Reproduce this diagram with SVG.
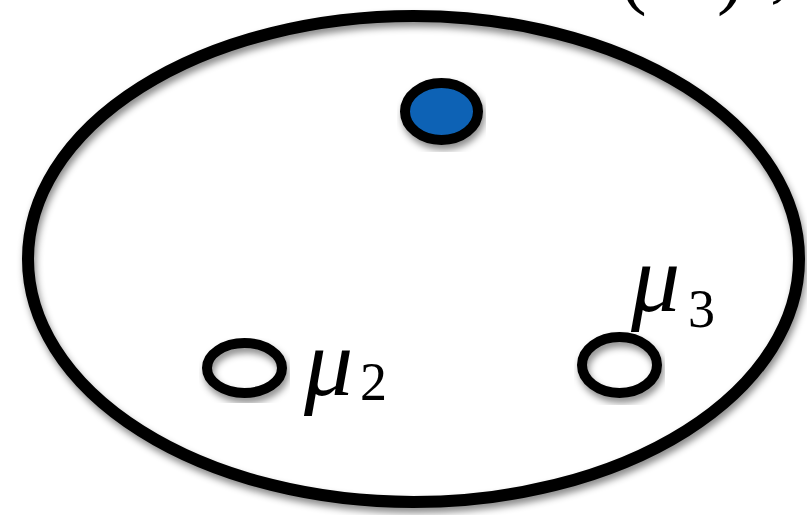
<svg xmlns="http://www.w3.org/2000/svg" width="807" height="515" viewBox="0 0 807 515">
<style>
.ring{fill:none;stroke:#000;stroke-width:10}
.math{font-family:"Liberation Serif",serif;fill:#000}
.mu{font-style:italic;font-size:98px}
.sub{font-size:54px}
</style>
<defs>
<filter id="sh" x="-10%" y="-10%" width="120%" height="130%">
<feDropShadow dx="2" dy="5" stdDeviation="3.5" flood-color="#000" flood-opacity="0.45"/>
</filter>
</defs>
<rect width="807" height="515" fill="#fff"/>
<g id="set" filter="url(#sh)">
<ellipse cx="413.5" cy="259" rx="385.5" ry="243" fill="none" stroke="#000" stroke-width="12"/>
</g>
<g id="top-label" class="math" font-size="80">
<text x="620" y="-1">(</text>
<text x="717" y="-1">)</text>
<text x="770" y="-8">,</text>
</g>
<g id="point" filter="url(#sh)">
<ellipse cx="441.5" cy="111.5" rx="36.5" ry="28.5" fill="#0b62b5" stroke="#000" stroke-width="10"/>
</g>
<g id="mu2">
<ellipse class="ring" cx="244.5" cy="368" rx="37.5" ry="25" filter="url(#sh)"/>
<text class="math" x="304" y="395"><tspan class="mu">μ</tspan><tspan class="sub" x="360" y="400">2</tspan></text>
</g>
<g id="mu3">
<ellipse class="ring" cx="619.5" cy="365" rx="37.5" ry="28" filter="url(#sh)"/>
<text class="math" x="631" y="311"><tspan class="mu">μ</tspan><tspan class="sub" x="688" y="327">3</tspan></text>
</g>
<g id="connectors"/>
</svg>
